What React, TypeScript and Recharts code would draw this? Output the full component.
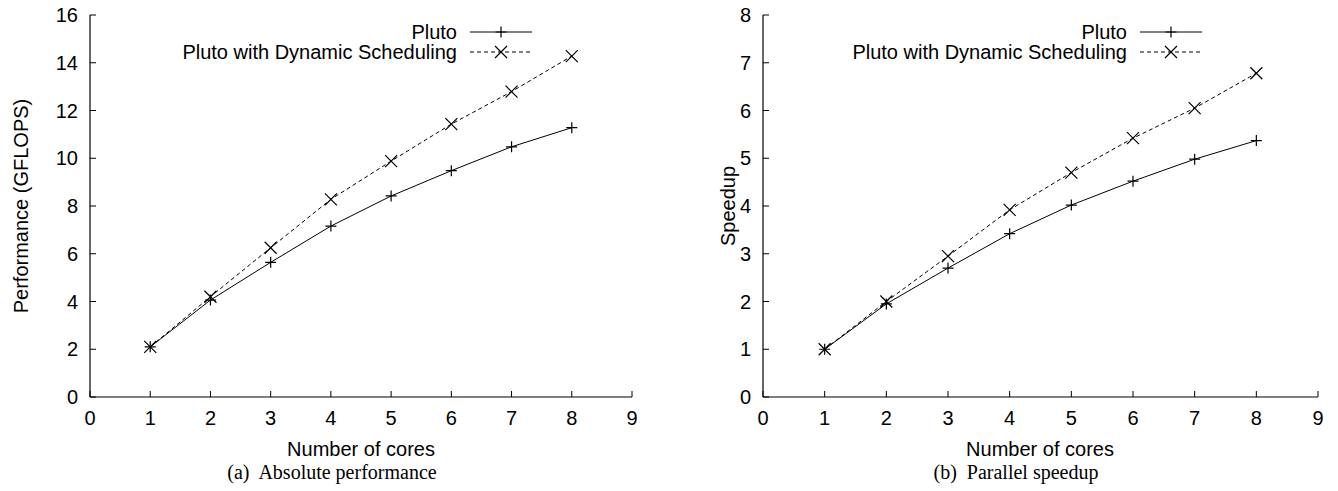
import React from 'react';
import { LineChart, Line, XAxis, YAxis } from 'recharts';

const cores = [1, 2, 3, 4, 5, 6, 7, 8];
const plutoGflops = [2.1, 4.06, 5.64, 7.16, 8.42, 9.48, 10.48, 11.28];
const dynamicGflops = [2.1, 4.2, 6.25, 8.28, 9.88, 11.43, 12.79, 14.28];
const plutoSpeedup = [1, 1.95, 2.7, 3.42, 4.02, 4.52, 4.98, 5.37];
const dynamicSpeedup = [1, 2.0, 2.95, 3.92, 4.7, 5.42, 6.05, 6.78];
const xTicks = [0, 1, 2, 3, 4, 5, 6, 7, 8, 9];
const gflopsTicks = [0, 2, 4, 6, 8, 10, 12, 14, 16];
const speedupTicks = [0, 1, 2, 3, 4, 5, 6, 7, 8];
const seriesNames = ['Pluto', 'Pluto with Dynamic Scheduling'];
const xTitle = 'Number of cores';
const yTitles = ['Performance (GFLOPS)', 'Speedup'];
const captions = ['(a)  Absolute performance', '(b)  Parallel speedup'];

const SANS = '"Liberation Sans", Arial, Helvetica, sans-serif';
const SERIF = '"Liberation Serif", "Times New Roman", serif';
const FS = 20;

const PlusDot = (props: any) => {
  const { cx, cy, index } = props;
  if (cx == null || cy == null) return null;
  return (
    <path
      key={`plus-${index}`}
      d={`M${cx - 5.5},${cy}h11M${cx},${cy - 5.5}v11`}
      stroke="#000"
      strokeWidth={1.2}
      fill="none"
    />
  );
};

const CrossDot = (props: any) => {
  const { cx, cy, index } = props;
  if (cx == null || cy == null) return null;
  return (
    <path
      key={`cross-${index}`}
      d={`M${cx - 6},${cy - 6}l12,12M${cx - 6},${cy + 6}l12,-12`}
      stroke="#000"
      strokeWidth={1.2}
      fill="none"
    />
  );
};

type PanelProps = {
  left: number;
  width: number;
  yAxisWidth: number;
  rightMargin: number;
  a: number[];
  b: number[];
  yTicks: number[];
  yMax: number;
};

function Panel({ left, width, yAxisWidth, rightMargin, a, b, yTicks, yMax }: PanelProps) {
  const data = cores.map((c, i) => ({ cores: c, a: a[i], b: b[i] }));
  const tickStyle = { fill: '#000', fontSize: FS, fontFamily: SANS };
  const axisLine = { stroke: '#000', strokeWidth: 1.2 };
  const tickLine = { stroke: '#000', strokeWidth: 1 };
  return (
    <div style={{ position: 'absolute', left, top: 0 }}>
      <LineChart
        width={width}
        height={491}
        data={data}
        margin={{ top: 15, right: rightMargin, left: 0, bottom: 0 }}
      >
        <XAxis
          dataKey="cores"
          type="number"
          domain={[0, 9]}
          ticks={xTicks}
          interval={0}
          height={94}
          tick={tickStyle}
          tickSize={-6}
          tickMargin={20}
          axisLine={axisLine}
          tickLine={tickLine}
        />
        <XAxis
          xAxisId="top"
          orientation="top"
          dataKey="cores"
          type="number"
          domain={[0, 9]}
          ticks={xTicks}
          interval={0}
          height={0}
          tick={false}
          tickSize={-6}
          axisLine={axisLine}
          tickLine={tickLine}
        />
        <YAxis
          type="number"
          domain={[0, yMax]}
          ticks={yTicks}
          interval={0}
          width={yAxisWidth}
          tick={tickStyle}
          tickSize={-6}
          tickMargin={18}
          axisLine={axisLine}
          tickLine={tickLine}
        />
        <YAxis
          yAxisId="right"
          orientation="right"
          type="number"
          domain={[0, yMax]}
          ticks={yTicks}
          interval={0}
          width={0}
          tick={false}
          tickSize={-6}
          axisLine={axisLine}
          tickLine={tickLine}
        />
        <Line
          dataKey="a"
          name={seriesNames[0]}
          stroke="#000"
          strokeWidth={1}
          dot={PlusDot}
          activeDot={false}
          isAnimationActive={false}
        />
        <Line
          dataKey="b"
          name={seriesNames[1]}
          stroke="#000"
          strokeWidth={1}
          strokeDasharray="4 3"
          dot={CrossDot}
          activeDot={false}
          isAnimationActive={false}
        />
      </LineChart>
    </div>
  );
}

function LegendBlock({ textEnd }: { textEnd: number }) {
  const lineStart = textEnd + 13;
  const lineEnd = lineStart + 62;
  const mid = (lineStart + lineEnd) / 2;
  const y1 = 32;
  const y2 = 52;
  return (
    <g>
      <text x={textEnd} y={y1 + 7} textAnchor="end" fontSize={FS} fontFamily={SANS} fill="#000">
        {seriesNames[0]}
      </text>
      <line x1={lineStart} x2={lineEnd} y1={y1} y2={y1} stroke="#000" strokeWidth={1} />
      <path d={`M${mid - 5.5},${y1}h11M${mid},${y1 - 5.5}v11`} stroke="#000" strokeWidth={1.2} />
      <text x={textEnd} y={y2 + 7} textAnchor="end" fontSize={FS} fontFamily={SANS} fill="#000">
        {seriesNames[1]}
      </text>
      <line x1={lineStart} x2={lineEnd} y1={y2} y2={y2} stroke="#000" strokeWidth={1} strokeDasharray="4 3" />
      <path d={`M${mid - 6},${y2 - 6}l12,12M${mid - 6},${y2 + 6}l12,-12`} stroke="#000" strokeWidth={1.2} />
    </g>
  );
}

export default function App() {
  return (
    <div style={{ position: 'absolute', left: 0, top: 0, width: 1338, height: 491, background: '#fff', overflow: 'hidden' }}>
      <Panel left={0} width={670} yAxisWidth={90} rightMargin={38} a={plutoGflops} b={dynamicGflops} yTicks={gflopsTicks} yMax={16} />
      <Panel left={670} width={668} yAxisWidth={93} rightMargin={20} a={plutoSpeedup} b={dynamicSpeedup} yTicks={speedupTicks} yMax={8} />
      <svg width={1338} height={491} style={{ position: 'absolute', left: 0, top: 0, pointerEvents: 'none' }}>
        <LegendBlock textEnd={457} />
        <LegendBlock textEnd={1127} />
        <text x={28} y={206} transform="rotate(-90 28 206)" textAnchor="middle" fontSize={FS} fontFamily={SANS} fill="#000">
          {yTitles[0]}
        </text>
        <text x={735} y={206} transform="rotate(-90 735 206)" textAnchor="middle" fontSize={FS} fontFamily={SANS} fill="#000">
          {yTitles[1]}
        </text>
        <text x={361} y={456} textAnchor="middle" fontSize={FS} fontFamily={SANS} fill="#000">
          {xTitle}
        </text>
        <text x={1040} y={456} textAnchor="middle" fontSize={FS} fontFamily={SANS} fill="#000">
          {xTitle}
        </text>
        <text x={332} y={479} textAnchor="middle" fontSize={20} fontFamily={SERIF} fill="#000" style={{ whiteSpace: 'pre' }}>
          {captions[0]}
        </text>
        <text x={1016} y={479} textAnchor="middle" fontSize={20} fontFamily={SERIF} fill="#000" style={{ whiteSpace: 'pre' }}>
          {captions[1]}
        </text>
      </svg>
    </div>
  );
}
